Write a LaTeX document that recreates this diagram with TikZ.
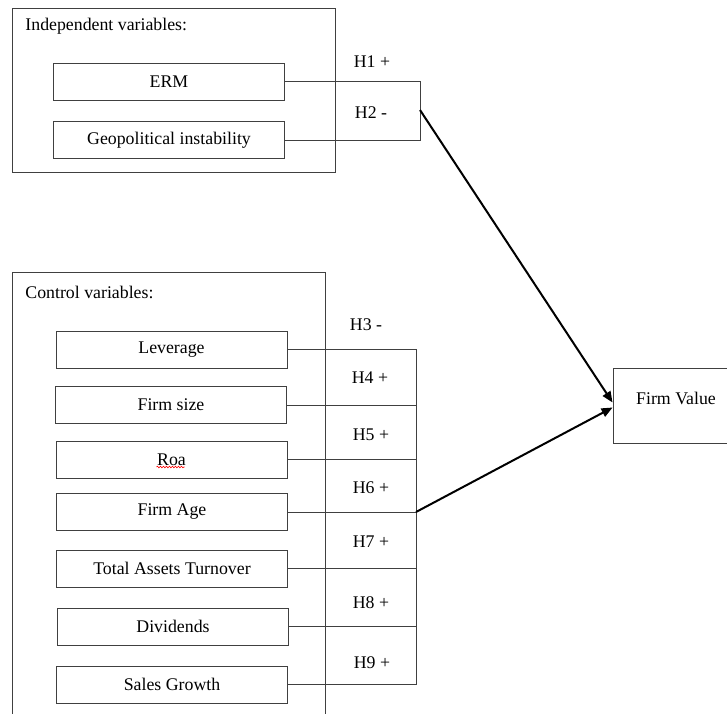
\documentclass[tikz,border=0pt]{standalone}
\usepackage{fontspec}
\setmainfont{Liberation Serif}
\usetikzlibrary{arrows.meta,decorations.pathmorphing}

\begin{document}
\begin{tikzpicture}[x=1pt,y=-1pt,draw=black!75,line width=0.9pt,font=\fontsize{17.8}{21}\selectfont]
    \tikzstyle{group}=[draw,inner sep=0pt]
    \tikzstyle{title}=[anchor=west,inner sep=0pt]
    \tikzstyle{var}=[draw,minimum width=231pt,minimum height=37pt,inner sep=0pt]
    \tikzstyle{hyp}=[inner sep=0pt]
    \tikzstyle{link}=[draw=black,line width=2pt,-{Triangle[length=11pt,width=9pt]}]

    \useasboundingbox (0,0) rectangle (727,713);
    \clip (0,0) rectangle (727,713);

    % Frames of the two groups
    \node[group,minimum width=323pt,minimum height=164pt] (IV) at (173.5,90) {};
    \node[group,minimum width=313pt,minimum height=460pt] (CV) at (168.5,502) {};
    \node[title] (IV-t) at (25,26) {Independent variables:};
    \node[title] (CV-t) at (25,292) {Control variables:};

    % Independent variables
    \node[var] (ERM) at (169,81.5) {ERM};
    \node[var] (GI) at (169,140) {Geopolitical instability};

    % Control variables
    \node[var] (Lev) at (171.5,349.5) {Leverage};
    \node[var] (Size) at (171,405) {Firm size};
    \node[var] (Roa) at (171.5,459.5) {Roa};
    \node[var] (Age) at (172,512) {Firm Age};
    \node[var] (TAT) at (172,568.5) {Total Assets Turnover};
    \node[var] (Div) at (173,626.5) {Dividends};
    \node[var] (SG) at (172,684.5) {Sales Growth};
    \draw[red,line width=0.6pt,decorate,decoration={snake,amplitude=0.8pt,segment length=3pt}]
        ([shift={(-15,7.5)}]Roa.center) -- ([shift={(13,7.5)}]Roa.center);

    % Dependent variable
    \node[draw,minimum width=134pt,minimum height=75pt,
        label={[xshift=-4pt,yshift=7pt]center:Firm Value}] (FV) at (680,405.5) {};

    % Hypotheses
    \node[hyp] (H1) at (372,62) {H1 +};
    \node[hyp] (H2) at (371,113) {H2 -};
    \node[hyp] (H3) at (366,325) {H3 -};
    \node[hyp] (H4) at (370,378) {H4 +};
    \node[hyp] (H5) at (371,435) {H5 +};
    \node[hyp] (H6) at (371,488) {H6 +};
    \node[hyp] (H7) at (371,542) {H7 +};
    \node[hyp] (H8) at (371,603) {H8 +};
    \node[hyp] (H9) at (372,663) {H9 +};

    % Brackets
    \coordinate (IB) at (420,0);
    \coordinate (CB) at (416,0);
    \draw (ERM.east) -- (ERM.east -| IB) -- (GI.east -| IB) -- (GI.east);
    \draw (Lev.east) -- (Lev.east -| CB) -- (SG.east -| CB) -- (SG.east);
    \foreach \v in {Size,Roa,Age,TAT,Div}
        \draw (\v.east) -- (\v.east -| CB);

    % Paths to firm value
    \coordinate (IM) at (420,110);
    \draw[link] (IM) -- ([yshift=3pt]FV.west);
    \draw[link] (Age.east -| CB) -- ([yshift=-2pt]FV.west);
\end{tikzpicture}
\end{document}
